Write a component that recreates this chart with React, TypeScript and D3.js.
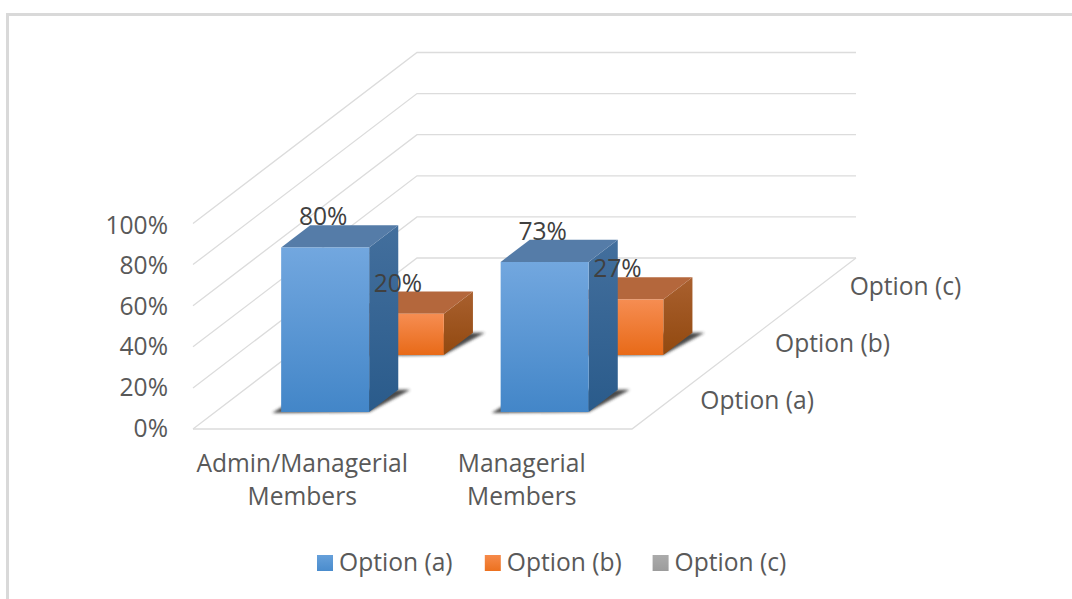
import React from "react";
import * as d3 from "d3";

// Survey results
const categories = ["Admin/Managerial Members", "Managerial Members"];
const categoryLines = [["Admin/Managerial", "Members"], ["Managerial", "Members"]];
const seriesNames = ["Option (a)", "Option (b)", "Option (c)"];
const optionA = [80, 73];
const optionB = [20, 27];
const optionC: (number | null)[] = [null, null];
const valueTicks = [0, 20, 40, 60, 80, 100];

const WIDTH = 1072;
const HEIGHT = 599;
const FONT = "'Open Sans', 'Noto Sans', sans-serif";
const FONT_SIZE = 24.6;

// Floor corners and oblique projection of the 3D plot box
const FRONT_Y = 429;
const FRONT_LEFT = 193;
const FRONT_RIGHT = 632;

const xScale = d3.scaleBand<string>().domain(categories).range([FRONT_LEFT, FRONT_RIGHT]);
const yScale = d3.scaleLinear().domain([0, 100]).range([0, 205.5]);
const tickY = d3.scaleLinear().domain([0, 100]).range([427, 224]);
const depthX = d3.scaleLinear().domain([0, 3]).range([0, 224]);
const depthY = d3.scaleLinear().domain([0, 3]).range([0, 171]);

const project = (x: number, value: number, depth: number): [number, number] => [
  x + depthX(depth),
  FRONT_Y - yScale(value) - depthY(depth),
];

const poly = (pts: [number, number][]) => pts.map((p) => p.join(",")).join(" ");

const BAR_WIDTH = 88;
const DEPTH_NEAR = 0.3;
const DEPTH_FAR = 0.69;

const palettes = [
  { id: "a", front: ["#72a7df", "#4386c8"], side: ["#436f9d", "#2a5b8b"], top: "#557ca8", swatch: ["#66a0da", "#4a8ccd"] },
  { id: "b", front: ["#f68d52", "#e86a18"], side: ["#a9602f", "#92490f"], top: "#b4673c", swatch: ["#f68a4a", "#ec711f"] },
  { id: "c", front: ["#b0b0b0", "#8f8f8f"], side: ["#777", "#666"], top: "#888", swatch: ["#ababab", "#9c9c9c"] },
];

function Bar({ category, value, seriesIndex }: { category: string; value: number; seriesIndex: number }) {
  const left = xScale(category)! + xScale.bandwidth() / 2 - BAR_WIDTH / 2;
  const right = left + BAR_WIDTH;
  const near = seriesIndex + DEPTH_NEAR;
  const far = seriesIndex + DEPTH_FAR;
  const id = palettes[seriesIndex].id;
  const p = palettes[seriesIndex];

  const shadow: [number, number][] = [
    [project(left, 0, near)[0] - 9, project(left, 0, near)[1] + 1],
    project(right, 0, near),
    [project(right, 0, far)[0] + 12, project(right, 0, far)[1]],
    project(left, 0, far),
  ];

  return (
    <g>
      <polygon points={poly(shadow)} fill="#2b2b2b" filter="url(#soft)" opacity={0.85} />
      <polygon
        points={poly([project(right, 0, near), project(right, 0, far), project(right, value, far), project(right, value, near)])}
        fill={`url(#side-${id})`}
      />
      <polygon
        points={poly([project(left, value, near), project(right, value, near), project(right, value, far), project(left, value, far)])}
        fill={p.top}
      />
      <polygon
        points={poly([project(left, 0, near), project(right, 0, near), project(right, value, near), project(left, value, near)])}
        fill={`url(#front-${id})`}
      />
    </g>
  );
}

export default function App() {
  const series = [optionA, optionB, optionC];

  const bars = series
    .flatMap((values, s) => values.map((v, c) => ({ s, c, v })))
    .filter((d) => d.v !== null)
    .sort((a, b) => b.s - a.s);

  return (
    <svg
      width={WIDTH}
      height={HEIGHT}
      viewBox={`0 0 ${WIDTH} ${HEIGHT}`}
      style={{ position: "absolute", left: 0, top: 0, background: "#fff" }}
      fontFamily={FONT}
    >
      <defs>
        <filter id="soft" x="-20%" y="-40%" width="140%" height="180%">
          <feGaussianBlur stdDeviation="1.4" />
        </filter>
        {palettes.map((p) => (
          <React.Fragment key={p.id}>
            <linearGradient id={`front-${p.id}`} x1="0" y1="0" x2="0" y2="1">
              <stop offset="0" stopColor={p.front[0]} />
              <stop offset="1" stopColor={p.front[1]} />
            </linearGradient>
            <linearGradient id={`side-${p.id}`} x1="0" y1="0" x2="0" y2="1">
              <stop offset="0" stopColor={p.side[0]} />
              <stop offset="1" stopColor={p.side[1]} />
            </linearGradient>
            <linearGradient id={`swatch-${p.id}`} x1="0" y1="0" x2="0" y2="1">
              <stop offset="0" stopColor={p.swatch[0]} />
              <stop offset="1" stopColor={p.swatch[1]} />
            </linearGradient>
          </React.Fragment>
        ))}
      </defs>

      {/* Chart area border: top and left edges */}
      <path d={`M7.5 ${HEIGHT} V14.5 H${WIDTH}`} fill="none" stroke="#d9d9d9" strokeWidth={3} />

      {/* Side and back wall gridlines */}
      {valueTicks.map((t) => {
        const a = project(FRONT_LEFT, t, 0);
        const b = project(FRONT_LEFT, t, 3);
        const c = project(FRONT_RIGHT, t, 3);
        return (
          <polyline key={t} points={poly([a, b, c])} fill="none" stroke="#dcdcdc" strokeWidth={1.3} />
        );
      })}

      {/* Floor edges */}
      <polyline
        points={poly([project(FRONT_LEFT, 0, 0), project(FRONT_RIGHT, 0, 0), project(FRONT_RIGHT, 0, 3)])}
        fill="none"
        stroke="#dcdcdc"
        strokeWidth={1.3}
      />

      {/* Bars, farthest series first */}
      {bars.map((d) => (
        <Bar key={`${d.s}-${d.c}`} category={categories[d.c]} value={d.v as number} seriesIndex={d.s} />
      ))}

      {/* Value labels */}
      {bars.map((d) => {
        const cx = xScale(categories[d.c])! + xScale.bandwidth() / 2;
        const [x, y] = project(cx, d.v as number, d.s + (DEPTH_NEAR + DEPTH_FAR) / 2);
        return (
          <text
            key={`label-${d.s}-${d.c}`}
            x={x - 16.5}
            y={y - 20.5}
            textAnchor="middle"
            dominantBaseline="central"
            fontSize={FONT_SIZE}
            fill="#404040"
          >
            {d.v}%
          </text>
        );
      })}

      {/* Value axis */}
      {valueTicks.map((t) => (
        <text
          key={t}
          x={168}
          y={tickY(t)}
          textAnchor="end"
          dominantBaseline="central"
          fontSize={FONT_SIZE}
          fill="#595959"
        >
          {t}%
        </text>
      ))}

      {/* Category axis */}
      {categories.map((c, i) => {
        const cx = xScale(c)! + xScale.bandwidth() / 2 - 0.5;
        return (
          <text key={c} textAnchor="middle" fontSize={FONT_SIZE} fill="#595959">
            {categoryLines[i].map((line, j) => (
              <tspan key={line} x={cx} y={472 + j * 33}>
                {line}
              </tspan>
            ))}
          </text>
        );
      })}

      {/* Series axis along the right floor edge */}
      {seriesNames.map((name, i) => {
        const [x, y] = project(FRONT_RIGHT, 0, i + 0.5);
        return (
          <text key={name} x={x + 31} y={y - 1} dominantBaseline="central" fontSize={FONT_SIZE} fill="#595959">
            {name}
          </text>
        );
      })}

      {/* Legend */}
      {seriesNames.map((name, i) => {
        const x = 317 + i * 167.8;
        return (
          <g key={name}>
            <rect x={x} y={555} width={16} height={16} fill={`url(#swatch-${palettes[i].id})`} />
            <text x={x + 22} y={561} dominantBaseline="central" fontSize={FONT_SIZE} fill="#595959">
              {name}
            </text>
          </g>
        );
      })}
    </svg>
  );
}
